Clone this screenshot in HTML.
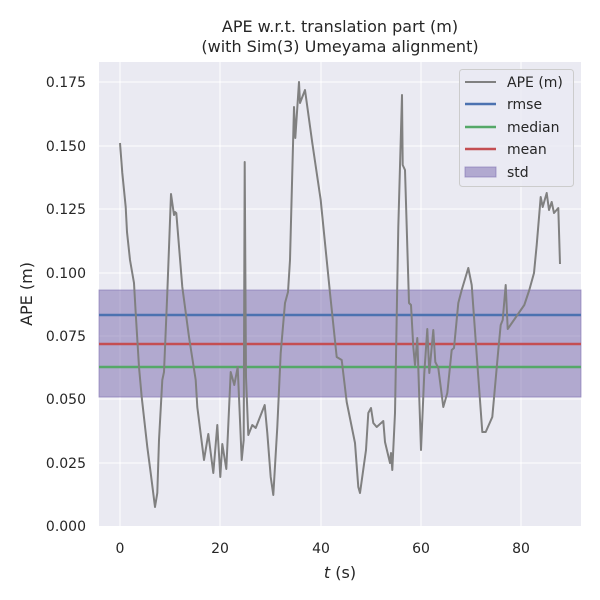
<!DOCTYPE html>
<html><head><meta charset="utf-8"><style>
html,body{margin:0;padding:0;background:#fff;}
svg{display:block;font-family:"DejaVu Sans","Liberation Sans",sans-serif;}
</style></head><body>
<svg width="600" height="600" viewBox="0 0 600 600">
<rect x="0" y="0" width="600" height="600" fill="#fff"/>
<rect x="99" y="62" width="482" height="464" fill="#eaeaf2"/>
<g stroke="#fff" stroke-width="1">
<line x1="120" y1="62" x2="120" y2="526"/><line x1="220" y1="62" x2="220" y2="526"/>
<line x1="321" y1="62" x2="321" y2="526"/><line x1="421" y1="62" x2="421" y2="526"/>
<line x1="521" y1="62" x2="521" y2="526"/>
<line x1="99" y1="463" x2="581" y2="463"/><line x1="99" y1="399" x2="581" y2="399"/>
<line x1="99" y1="336" x2="581" y2="336"/><line x1="99" y1="273" x2="581" y2="273"/>
<line x1="99" y1="209" x2="581" y2="209"/><line x1="99" y1="146" x2="581" y2="146"/>
<line x1="99" y1="82" x2="581" y2="82"/>
</g>
<rect x="99" y="290" width="482" height="107" fill="#8172b3" fill-opacity="0.55" stroke="#8172b3" stroke-opacity="0.6"/>
<line x1="99" y1="315" x2="581" y2="315" stroke="#4c72b0" stroke-width="2.5"/>
<line x1="99" y1="367" x2="581" y2="367" stroke="#55a868" stroke-width="2.5"/>
<line x1="99" y1="344" x2="581" y2="344" stroke="#c44e52" stroke-width="2.5"/>
<polyline fill="none" stroke="#808080" stroke-width="2" stroke-linejoin="round" points="120,143 122.3,173 125.7,207 127,232 130,260 134,283 135.7,313 139,367 141.7,397 147.3,447 150.7,473 155,507 157.3,493 159,440 162.3,380 164,372 167.3,293 171,194 174,215 175,212 176.3,213 182.3,287 189,337 195.7,380 197.3,407 204,460 208.3,434 213.3,473 217.3,425 220.3,477 222.3,444 226.3,469 230.7,372 234.3,385 237.7,367 241.7,460 243.7,440 244.7,162 246,377 248.3,435 252.3,425 255.7,428 264.7,405 267.3,433 270.7,477 273.3,495 277.3,427 280.7,353 285,303 288,292 290,260 294,107 295.3,138 299,82 300,103 305,90 312.3,143 320.7,200 330,293 336.7,357 341.7,360 346.7,402 355,443 358.3,487 360,493 366,450 368.3,413 371,408 373.3,423 376.7,427 383.3,421 385,442 390,463 391,453 392.3,470 395,413 398.3,227 402,95 402.7,165 405,170 409,303 411,305 413.3,347 415,365 417.3,338 421,450 424.3,373 427.3,329 429.3,373 433.3,330 435.3,362 438.3,368 443.3,407 447.3,393 451.7,350 454,348 458.3,303 461.7,290 468.3,268 471.7,285 478.3,377 482.3,432 485.7,432 492.3,417 498.3,350 500.7,325 502.7,320 505.7,285 507.7,329 524.3,305 529.3,290 534,273 536.7,245 540.7,197 542.7,207 546.7,193 549,210 551.7,202 554,213 558.3,208 560,264"/>
<g font-size="14" fill="#262626" text-anchor="middle">
<text x="120" y="553">0</text><text x="220" y="553">20</text><text x="321" y="553">40</text>
<text x="421" y="553">60</text><text x="521" y="553">80</text>
</g>
<g font-size="14" fill="#262626" text-anchor="end">
<text x="86" y="531">0.000</text><text x="86" y="468">0.025</text><text x="86" y="404">0.050</text>
<text x="86" y="341">0.075</text><text x="86" y="278">0.100</text><text x="86" y="214">0.125</text>
<text x="86" y="151">0.150</text><text x="86" y="87">0.175</text>
</g>
<text x="340" y="578" font-size="16" fill="#262626" text-anchor="middle"><tspan font-style="italic">t</tspan> (s)</text>
<text transform="translate(32,294) rotate(-90)" font-size="16" fill="#262626" text-anchor="middle">APE (m)</text>
<text x="340" y="32" font-size="16" fill="#262626" text-anchor="middle">APE w.r.t. translation part (m)</text>
<text x="340" y="52" font-size="16" fill="#262626" text-anchor="middle">(with Sim(3) Umeyama alignment)</text>
<rect x="459.5" y="69.5" width="114" height="117" rx="3" fill="#eaeaf2" fill-opacity="0.8" stroke="#cccccc"/>
<line x1="465" y1="82" x2="496" y2="82" stroke="#808080" stroke-width="2"/>
<line x1="465" y1="104" x2="496" y2="104" stroke="#4c72b0" stroke-width="2.5"/>
<line x1="465" y1="127" x2="496" y2="127" stroke="#55a868" stroke-width="2.5"/>
<line x1="465" y1="149" x2="496" y2="149" stroke="#c44e52" stroke-width="2.5"/>
<rect x="465" y="167" width="31" height="10" fill="#8172b3" fill-opacity="0.55" stroke="#8172b3" stroke-opacity="0.6"/>
<g font-size="14" fill="#262626">
<text x="507" y="87">APE (m)</text><text x="507" y="109">rmse</text><text x="507" y="132">median</text>
<text x="507" y="154">mean</text><text x="507" y="177">std</text>
</g>
</svg>
</body></html>
